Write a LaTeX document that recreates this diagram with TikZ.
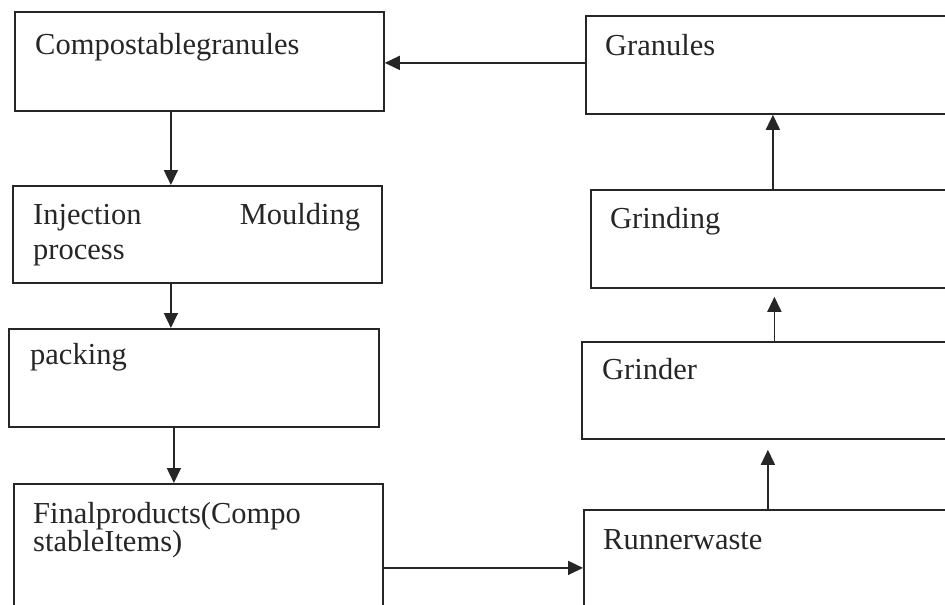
\documentclass[tikz,border=0pt]{standalone}
\usepackage{fontspec}
\setmainfont{Liberation Serif}
\usetikzlibrary{arrows.meta}
\begin{document}
\begin{tikzpicture}[x=1pt,y=-1pt,
  box/.style={draw=black!85, line width=1.8pt, rectangle, anchor=north west, inner sep=0pt},
  lbl/.style={anchor=base west, font=\fontsize{30.5}{34}\selectfont, inner sep=0pt, text=black!85},
  flow/.style={draw=black!85, line width=1.6pt, -{Triangle[length=15pt,width=14pt]}}]
\useasboundingbox (0,0) rectangle (945,605);
\fill[white] (0,0) rectangle (945,605);
\clip (0,0) rectangle (945,605);
% left column
\node[box, minimum width=369pt, minimum height=99pt] (cg) at (14,11) {};
\node[box, minimum width=369pt, minimum height=97pt] (inj) at (12,185) {};
\node[box, minimum width=370pt, minimum height=98pt] (pk) at (8,328) {};
\node[box, minimum width=369pt, minimum height=140pt] (fp) at (13,483) {};
% right column
\node[box, minimum width=380pt, minimum height=98pt] (gr) at (585,15) {};
\node[box, minimum width=375pt, minimum height=98pt] (gd) at (590,189) {};
\node[box, minimum width=385pt, minimum height=97pt] (gn) at (581,341) {};
\node[box, minimum width=385pt, minimum height=120pt] (rw) at (583,509) {};
% texts
\node[lbl] (tcg) at (35,54) {Compostablegranules};
\node[lbl] (tinj1) at (33,224) {\makebox[327pt]{Injection\hfill Moulding}};
\node[lbl] (tinj2) at (33,259) {process};
\node[lbl] (tpk) at (30,364) {packing};
\node[lbl] (tfp1) at (33,523) {Finalproducts(Compo};
\node[lbl] (tfp2) at (33,551) {stableItems)};
\node[lbl] (tgr) at (605,55) {Granules};
\node[lbl] (tgd) at (610,228) {Grinding};
\node[lbl] (tgn) at (602,379) {Grinder};
\node[lbl] (trw) at (603,549) {Runnerwaste};
% connectors
\draw[flow] ([xshift=-28.5pt]cg.south) -- ([xshift=-28.5pt]cg.south |- inj.north);
\draw[flow] ([xshift=-26.5pt]inj.south) -- ([xshift=-26.5pt]inj.south |- pk.north);
\draw[flow] ([xshift=-20pt]pk.south) -- ([xshift=-20pt]pk.south |- fp.north);
\draw[flow] ([yshift=-14pt]fp.east) -- ([yshift=-14pt]fp.east -| rw.west);
\draw[flow, shorten >=10pt] ([xshift=-8.5pt]rw.north) -- ([xshift=-8.5pt]rw.north |- gn.south);
\draw[flow, shorten >=8pt] (gn.north) -- (gn.north |- gd.south);
\draw[flow] ([xshift=-5.5pt]gd.north) -- ([xshift=-5.5pt]gd.north |- gr.south);
\draw[flow] ([yshift=2pt]gr.west) -- ([yshift=2pt]gr.west -| cg.east);
\end{tikzpicture}
\end{document}
